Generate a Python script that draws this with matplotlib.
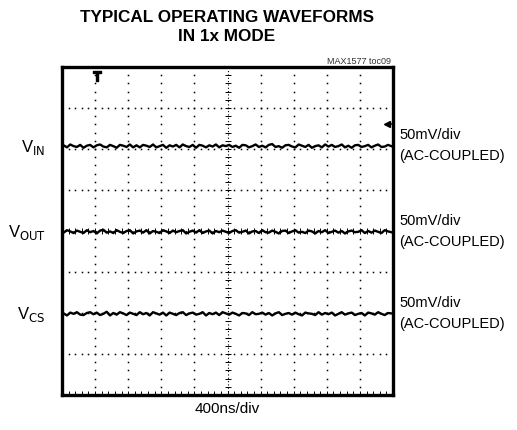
import numpy as np
import matplotlib
matplotlib.use("Agg")
import matplotlib.pyplot as plt

# scope screen: 10 x 8 divisions
n_xdiv = 10
n_ydiv = 8

trace_names = ["V$_{\\mathrm{IN}}$", "V$_{\\mathrm{OUT}}$", "V$_{\\mathrm{CS}}$"]
trace_levels = [6.07, 3.98, 1.98]  # divisions from bottom
scale_labels = ["50mV/div\n(AC-COUPLED)"] * 3
time_label = "400ns/div"

# ripple, in hundredths of a division, left to right
noise_in = [2, -3, 4, 0, -2, 3, -4, 1, 3, -3, 2, 4, -1, -3, 3, 0, -4, 3, 1, -2,
            4, -3, 2, -3, 3, 1, -2, 4, -3, 0, 3, -4, 2, -1, 3, -3, 4, 0, -2, 3,
            -4, 3, 1, -3, 2, -1, 4, -3, 2, 0, 3, -2, 1, -4, 3, 2, -3, 0, 4, -2,
            1, -3, 3, 5, -2, 0, -4, 2, 3, -1, -3, 4, 1, -2, 3, -4, 0, 2, -3, 4,
            -1, 3, -2, 0, 4, -3, 1, -4, 2, 3, -2, 0, 3, -3, 1, 4, -2, -1, 3, 0]
noise_out = [-2, 4, 1, -3, 3, 0, -3, 4, -1, 2, -4, 3, 5, -2, 1, -3, 4, 0, -3, 2,
             4, -4, 1, 3, -2, 4, -4, 2, 0, -3, 4, 1, -3, 3, -1, 2, 4, -4, 0, 3,
             -2, 4, -3, 1, 3, -4, 2, -1, 3, 0, -3, 2, 4, -2, 0, 3, -4, 1, 2, -3,
             4, -1, -2, 3, 0, -4, 2, 3, -3, 1, 4, -2, 0, -3, 3, 1, -4, 2, -1, 4,
             -3, 0, 3, -2, 2, -4, 1, 3, -1, 0, 4, -3, 2, -2, 3, 0, -3, 4, 1, -1]
noise_cs = [1, -4, 3, 0, 4, -2, -3, 2, 4, -1, 3, -3, 0, 5, -4, 2, -2, 4, 1, -3,
            3, 0, -3, 4, -1, 2, -4, 4, 1, -2, 3, -4, 3, 0, -3, 2, 4, -3, 1, 3,
            -2, 0, 4, -4, 2, -1, 3, -3, 4, 1, -2, 3, 0, -4, 2, 1, -3, 4, -1, 0,
            3, -2, 2, -4, 1, 4, -3, 0, 2, -2, 3, -1, -4, 3, 1, 0, -3, 4, -2, 2,
            -1, 3, -4, 0, 4, -2, 1, 3, -3, 0, 2, -4, 3, 1, -2, 4, 0, -3, 2, 1]
noises = [noise_in, noise_out, noise_cs]

trigger_x = 1.06
ref_marker_y = 6.6

plt.rcParams["font.family"] = ["Liberation Sans", "DejaVu Sans"]

fig = plt.figure(figsize=(5.17, 4.31), dpi=100)
ax = fig.add_axes([62 / 517, 35 / 431, 331 / 517, 328 / 431])
ax.set_xlim(0, n_xdiv)
ax.set_ylim(0, n_ydiv)
ax.set_xticks([])
ax.set_yticks([])
for s in ax.spines.values():
    s.set_linewidth(2.4)

# dotted graticule, one dot every 1/5 division
xdots = np.arange(0, n_xdiv + 0.01, 0.2)
ydots = np.arange(0, n_ydiv + 0.01, 0.2)
for gx in range(1, n_xdiv):
    if gx != n_xdiv // 2:
        ax.plot(np.full_like(ydots, gx), ydots, ls="none", marker="s", ms=1.1,
                mew=0, color="black")
for gy in range(1, n_ydiv):
    if gy != n_ydiv // 2:
        ax.plot(xdots, np.full_like(xdots, gy), ls="none", marker="s", ms=1.1,
                mew=0, color="black")

# center cross with minor ticks, bottom edge ticks
ax.axhline(n_ydiv / 2, color="black", lw=0.8, ls=(0, (1, 2)))
ax.axvline(n_xdiv / 2, color="black", lw=0.8, ls=(0, (1, 2)))
ax.plot(xdots, np.full_like(xdots, n_ydiv / 2), ls="none", marker="|", ms=4,
        color="black", mew=0.7)
ax.plot(np.full_like(ydots, n_xdiv / 2), ydots, ls="none", marker="_", ms=4,
        color="black", mew=0.7)
ax.plot(xdots, np.full_like(xdots, 0.06), ls="none", marker="|", ms=3,
        color="black", mew=0.7)

# traces
for level, nz in zip(trace_levels, noises):
    xs = np.linspace(0.05, n_xdiv - 0.05, len(nz))
    ax.plot(xs, level + np.array(nz) / 100.0, color="black", lw=1.7)

# trigger marker and reference marker
ax.plot(trigger_x, n_ydiv - 0.22, marker="$\\mathbf{T}$", ms=7, color="black")
ax.plot(n_xdiv - 0.18, ref_marker_y, marker="<", ms=4, color="black")
ax.plot([n_xdiv - 0.18, n_xdiv - 0.05], [ref_marker_y] * 2, color="black", lw=1.2)

for name, level in zip(trace_names, trace_levels):
    ax.text(-0.5, level, name, ha="right", va="center", fontsize=12)
for lab, level in zip(scale_labels, trace_levels):
    ax.text(n_xdiv + 0.2, level + 0.04, lab, ha="left", va="center",
            fontsize=10.5, linespacing=1.65)

fig.text(227 / 517, 1 - 27 / 431, "TYPICAL OPERATING WAVEFORMS\nIN 1x MODE",
         ha="center", va="center", fontsize=12.3, fontweight="bold", linespacing=1.3)
fig.text(391 / 517, 1 - 61 / 431, "MAX1577 toc09", ha="right", va="center",
         fontsize=6.5, color="#333333")
fig.text(227 / 517, 1 - 409 / 431, time_label, ha="center", va="center",
         fontsize=11)

fig.savefig("out.png", dpi=100)
